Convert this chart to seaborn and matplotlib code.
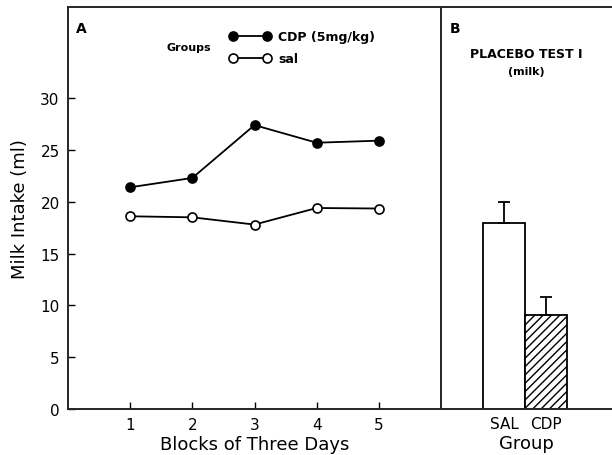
import matplotlib
matplotlib.use("Agg")
import matplotlib.pyplot as plt
import seaborn as sns
import pandas as pd

blocks = [1, 2, 3, 4, 5]
cdp_intake = [21.4, 22.3, 27.4, 25.7, 25.9]
sal_intake = [18.6, 18.5, 17.8, 19.4, 19.35]

groups_b = ["SAL", "CDP"]
placebo_mean = [18.0, 9.1]
placebo_err = [2.0, 1.7]

sns.set_style("ticks", {"text.color": "black", "axes.labelcolor": "black",
                        "xtick.color": "black", "ytick.color": "black"})
plt.rcParams['font.family'] = ['DejaVu Sans']

df = pd.DataFrame({
    "block": blocks + blocks,
    "intake": cdp_intake + sal_intake,
    "group": ["CDP (5mg/kg)"] * 5 + ["sal"] * 5,
})

fig = plt.figure(figsize=(6.12, 4.56), dpi=100)
axA = fig.add_axes([68/612, 46/456, 373/612, 402/456])
axB = fig.add_axes([441/612, 46/456, 171/612, 402/456])
axB.patch.set_visible(False)

for name, face in [("CDP (5mg/kg)", "black"), ("sal", "white")]:
    sub = df[df.group == name]
    sns.lineplot(data=sub, x="block", y="intake", ax=axA, color="black",
                 marker="o", markersize=6.5, markerfacecolor=face,
                 markeredgecolor="black", markeredgewidth=1.2,
                 linewidth=1.3, label=name)

axA.set_xlim(0, 6)
axA.set_ylim(0, 38.8)
axA.set_xticks(blocks)
axA.set_xticklabels(["1", "2", "3", "4", "5"])
axA.set_yticks([0, 5, 10, 15, 20, 25, 30])
axA.tick_params(direction="in", length=5, width=1, labelsize=11, pad=6)
axA.set_xlabel("Blocks of Three Days", fontsize=13, labelpad=2)
axA.set_ylabel("Milk Intake (ml)", fontsize=13, labelpad=8)
for s in axA.spines.values():
    s.set_linewidth(1.4)
axA.text(0.02, 0.965, "A", transform=axA.transAxes, fontsize=10,
         fontweight="bold", va="top")
leg = axA.legend(loc="upper left", bbox_to_anchor=(0.42, 0.955), frameon=False,
                 handlelength=3.3, fontsize=9, labelspacing=0.75, numpoints=2,
                 handletextpad=0.6, borderaxespad=0)
for t in leg.get_texts():
    t.set_fontweight("bold")
axA.text(0.265, 0.9, "Groups", transform=axA.transAxes, fontsize=8,
         fontweight="bold", va="center")

sns.barplot(x=groups_b, y=placebo_mean, ax=axB, width=1.0, errorbar=None,
            color="white", edgecolor="black", linewidth=1.3)
axB.patches[1].set_hatch("////")
axB.errorbar(range(len(groups_b)), placebo_mean,
             yerr=[[0, 0], placebo_err], fmt="none", ecolor="black",
             elinewidth=1.3, capsize=4, capthick=1.3)
axB.set_xlim(-1.5, 2.57)
axB.set_ylim(0, 38.8)
axB.set_yticks([])
axB.tick_params(axis="x", length=0, labelsize=11, pad=5)
axB.set_xlabel("Group", fontsize=13, labelpad=2)
axB.spines["left"].set_visible(False)
axB.spines["right"].set_visible(False)
for s in axB.spines.values():
    s.set_linewidth(1.4)
axB.text(0.05, 0.965, "B", transform=axB.transAxes, fontsize=10,
         fontweight="bold", va="top")
axB.text(0.5, 0.885, "PLACEBO TEST I", transform=axB.transAxes, fontsize=9,
         fontweight="bold", ha="center", va="center")
axB.text(0.5, 0.84, "(milk)", transform=axB.transAxes, fontsize=8,
         fontweight="bold", ha="center", va="center")

fig.savefig("out.png", dpi=100)
